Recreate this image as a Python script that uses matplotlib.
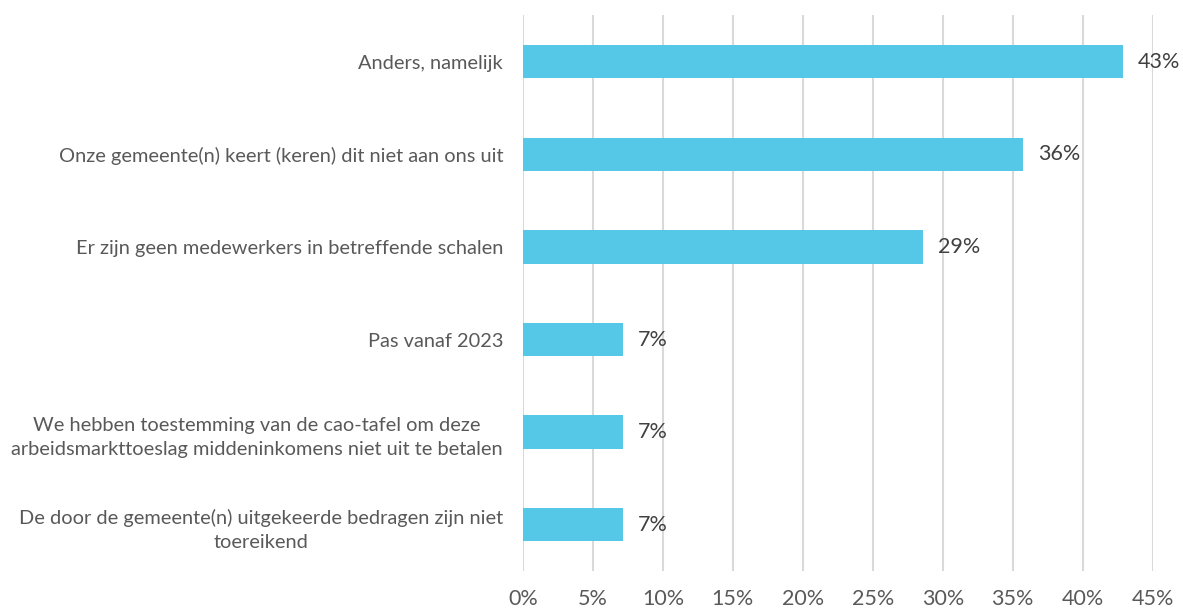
import matplotlib
matplotlib.use("Agg")
import matplotlib.pyplot as plt

# Answers, top to bottom, with the share of respondents (n = 14)
categories = [
    "Anders, namelijk",
    "Onze gemeente(n) keert (keren) dit niet aan ons uit",
    "Er zijn geen medewerkers in betreffende schalen",
    "Pas vanaf 2023",
    "We hebben toestemming van de cao-tafel om deze\narbeidsmarkttoeslag middeninkomens niet uit te betalen",
    "De door de gemeente(n) uitgekeerde bedragen zijn niet\ntoereikend",
]
shares = [42.86, 35.71, 28.57, 7.14, 7.14, 7.14]
xticks = [0, 5, 10, 15, 20, 25, 30, 35, 40, 45]

bar_color = "#55C8E8"
grid_color = "#D9D9D9"
text_color = "#595959"

plt.rcParams["font.family"] = ["Lato", "DejaVu Sans"]

fig = plt.figure(figsize=(11.83, 6.10), dpi=100)
ax = fig.add_axes([0.4421, 0.0639, 0.5323, 0.9107])

ypos = list(range(len(categories)))
ax.barh(ypos, shares, height=0.36, color=bar_color, zorder=3)

for y, v in zip(ypos, shares):
    ax.text(v + 1.1, y, f"{v:.0f}%", va="center", ha="left",
            fontsize=15.5, color="#404040", zorder=4)

ax.set_xlim(0, 45)
ax.set_ylim(len(categories) - 0.5, -0.5)
ax.set_xticks(xticks)
ax.set_xticklabels([f"{t}%" for t in xticks], fontsize=15.5, color=text_color)
ax.set_yticks(ypos)
ax.set_yticklabels(categories, fontsize=14.4, color=text_color,
                   multialignment="center", linespacing=1.5)

ax.grid(axis="x", color=grid_color, linewidth=1.5, zorder=0)
ax.tick_params(axis="both", length=0)
ax.tick_params(axis="y", pad=14.4)
ax.tick_params(axis="x", pad=13)
for s in ax.spines.values():
    s.set_visible(False)

fig.savefig("out.png", dpi=100)
